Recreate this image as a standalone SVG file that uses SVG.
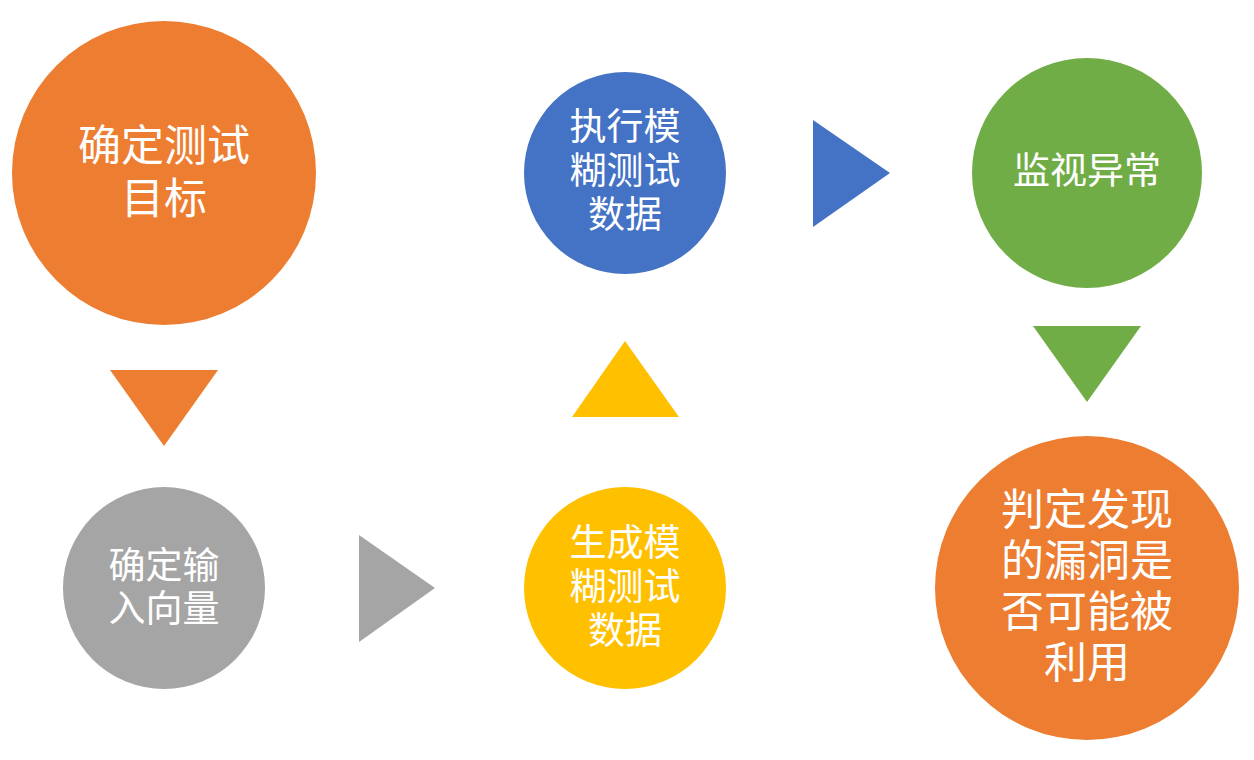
<svg xmlns="http://www.w3.org/2000/svg" width="1254" height="760" viewBox="0 0 1254 760">
<style>
.t{fill:#fff;font-family:"Noto Sans CJK SC","Noto Sans",sans-serif;text-anchor:middle;dominant-baseline:central}
.big{font-size:43px}
.mid{font-size:37px}
</style>
<rect width="1254" height="760" fill="#fff"/>
<g id="n1"><circle cx="164" cy="173" r="152" fill="#ED7D31"/>
<text class="t big" x="164" y="142">确定测试</text><text class="t big" x="164" y="195">目标</text></g>
<g id="n2"><circle cx="164" cy="588" r="101" fill="#A5A5A5"/>
<text class="t mid" x="164" y="563">确定输</text><text class="t mid" x="164" y="606">入向量</text></g>
<g id="n3"><circle cx="625" cy="588" r="101" fill="#FFC000"/>
<text class="t mid" x="625" y="540">生成模</text><text class="t mid" x="625" y="584">糊测试</text><text class="t mid" x="625" y="628">数据</text></g>
<g id="n4"><circle cx="625" cy="173" r="101" fill="#4472C4"/>
<text class="t mid" x="625" y="124">执行模</text><text class="t mid" x="625" y="168">糊测试</text><text class="t mid" x="625" y="212">数据</text></g>
<g id="n5"><circle cx="1087" cy="173" r="115" fill="#70AD47"/>
<text class="t mid" x="1087" y="168">监视异常</text></g>
<g id="n6"><circle cx="1087" cy="588" r="152" fill="#ED7D31"/>
<text class="t big" x="1087" y="506">判定发现</text><text class="t big" x="1087" y="557">的漏洞是</text><text class="t big" x="1087" y="608">否可能被</text><text class="t big" x="1087" y="659">利用</text></g>
<g id="connectors">
<polygon points="110,370 218,370 164,446" fill="#ED7D31"/>
<polygon points="359,535 359,642 435,588" fill="#A5A5A5"/>
<polygon points="572,417 679,417 625,341" fill="#FFC000"/>
<polygon points="813,120 813,227 890,173" fill="#4472C4"/>
<polygon points="1033,326 1141,326 1087,402" fill="#70AD47"/>
</g>
</svg>
